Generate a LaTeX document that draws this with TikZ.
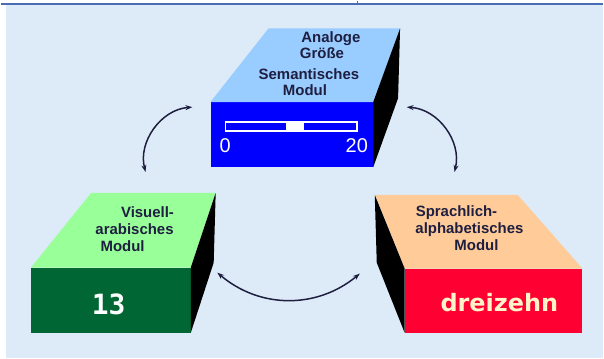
\documentclass[tikz,border=0pt]{standalone}
\usepackage{fontspec}
\setmainfont{Liberation Sans}
\newfontfamily\digitfont{DejaVu Sans Mono}
\newfontfamily\wordfont{DejaVu Sans}
\usetikzlibrary{arrows.meta,positioning}

\definecolor{panel}{HTML}{DDEBF8}
\definecolor{rulecol}{HTML}{4A6CB5}
\definecolor{semtop}{HTML}{99CCFF}
\definecolor{semfront}{HTML}{0000FF}
\definecolor{vistop}{HTML}{99FF99}
\definecolor{visfront}{HTML}{006633}
\definecolor{sprtop}{HTML}{FFCC99}
\definecolor{sprfront}{HTML}{FF0033}
\definecolor{ink}{HTML}{1E1E40}
\definecolor{cream}{HTML}{FFF4C8}

\begin{document}
\begin{tikzpicture}[
    x=1pt, y=-1pt,
    front/.style={rectangle, inner sep=0pt, anchor=north west},
    caption/.style={anchor=base, inner sep=0pt, text=ink,
                    font=\bfseries\fontsize{15}{17}\selectfont},
    arr/.style={{Stealth[length=7pt,width=5pt]}-{Stealth[length=7pt,width=5pt]},
                line width=1.5pt, draw=ink}
]
    % page and panel
    \fill[white] (0,0) rectangle (604,359);
    \fill[panel] (5,4) rectangle (604,359);
    \draw[rulecol, line width=2pt] (0,4) -- (604,4);
    \draw[rulecol, line width=1pt] (358,0) -- (358,4);

    % front faces
    \node[front, fill=semfront, minimum width=163pt, minimum height=65pt] (sem) at (210,102) {};
    \node[front, fill=visfront, minimum width=160pt, minimum height=65pt] (vis) at (30,268) {};
    \node[front, fill=sprfront, minimum width=178pt, minimum height=64pt] (spr) at (405,269) {};

    % top and side faces
    \fill[semtop] (sem.north west) -- (sem.north east) -- ++(27,-74) -- ++(-132,0) -- cycle;
    \fill[black] (sem.north east) -- ++(27,-74) -- ++(-2,70) -- (sem.south east) -- cycle;
    \fill[vistop] (vis.north west) -- (vis.north east) -- ++(25,-75) -- ++(-125,0) -- cycle;
    \fill[black] (vis.north east) -- ++(25,-75) -- ++(-2,70) -- (vis.south east) -- cycle;
    \fill[sprtop] (spr.north west) -- (spr.north east) -- ++(-65,-74) -- ++(-143,0) -- cycle;
    \fill[black] (spr.north west) -- ++(-30,-74) -- ++(2,68) -- (spr.south west) -- cycle;

    % scale on the semantic module
    \draw[white, line width=1.5pt] (225,122) rectangle (357,131);
    \fill[white] (286,122) rectangle (304,131);
    \node[anchor=base, inner sep=0pt, text=white, font=\fontsize{20}{20}\selectfont] (lo) at (225,153) {0};
    \node[anchor=base, inner sep=0pt, text=white, font=\fontsize{20}{20}\selectfont] (hi) at (357,153) {20};
    \node[anchor=base, inner sep=0pt, text=white, font=\digitfont\bfseries\fontsize{28}{28}\selectfont] (num) at (108,315) {13};
    \node[anchor=base, inner sep=0pt, text=cream, font=\wordfont\bfseries\fontsize{24}{24}\selectfont] (word) at (500,312) {dreizehn};

    % labels on the top faces
    \foreach \t/\x/\y [count=\i] in {Analoge/331/42, Größe/322/58, Semantisches/309/79, Modul/305/95}
        \node[caption] (semtxt\i) at (\x,\y) {\t};
    \foreach \t/\x/\y [count=\i] in {Visuell-/147/218, arabisches/134/235, Modul/122/252}
        \node[caption] (vistxt\i) at (\x,\y) {\t};
    \foreach \t/\x/\y [count=\i] in {Sprachlich-/457/217, alphabetisches/470/234, Modul/477/251}
        \node[caption] (sprtxt\i) at (\x,\y) {\t};

    % connectors
    \coordinate (a1) at (192,107);
    \coordinate (a2) at (145,172);
    \coordinate (b1) at (407,107);
    \coordinate (b2) at (455,172);
    \coordinate (c1) at (217,273);
    \coordinate (c2) at (360,274);
    \draw[arr] (a1) to[bend right=50] (a2);
    \draw[arr] (b1) to[bend left=50] (b2);
    \draw[arr] (c1) to[bend right=40] (c2);
\end{tikzpicture}
\end{document}
